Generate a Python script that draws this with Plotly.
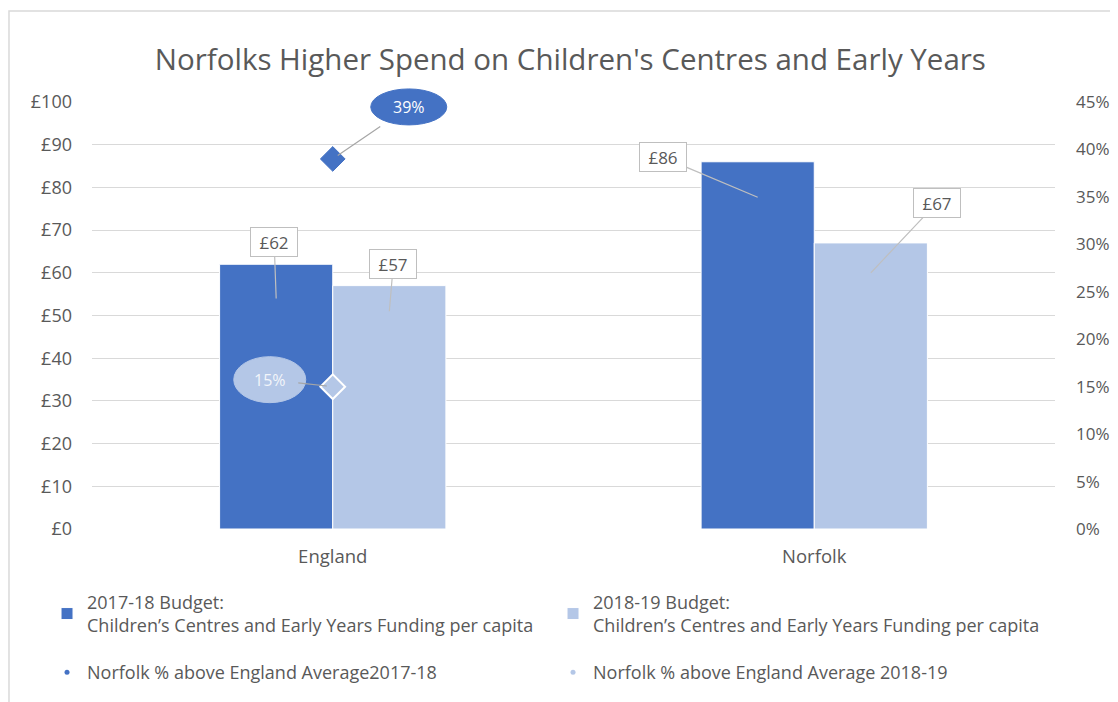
import plotly.graph_objects as go

categories = ["England", "Norfolk"]
budget_1718 = [62, 86]
budget_1819 = [57, 67]
pct_1718 = [39]          # Norfolk % above England, plotted at England
pct_1819 = [15]
pct_x = ["England"]

y_ticks = list(range(0, 101, 10))
y_ticklabels = [f"£{v}" for v in y_ticks]
y2_ticks = list(range(0, 46, 5))
y2_ticklabels = [f"{v}%" for v in y2_ticks]

name1 = "2017-18 Budget:<br>Children’s Centres and Early Years Funding per capita"
name2 = "2018-19 Budget:<br>Children’s Centres and Early Years Funding per capita"
name3 = "Norfolk % above England Average2017-18"
name4 = "Norfolk % above England Average 2018-19"

DARK = "#4472C4"
LIGHT = "#B4C7E7"
GREY_TXT = "#595959"
FONT = "'Open Sans', Lato, sans-serif"

Y2_MAX = 45
BARGAP = 0.53
half = (1 - BARGAP) / 4  # offset of each bar centre from category centre

fig = go.Figure()
fig.add_trace(go.Bar(x=categories, y=budget_1718, name=name1, legend="legend",
                     marker=dict(color=DARK, line=dict(color="white", width=1))))
fig.add_trace(go.Bar(x=categories, y=budget_1819, name=name2, legend="legend",
                     marker=dict(color=LIGHT, line=dict(color="white", width=1))))
fig.add_trace(go.Scatter(x=pct_x, y=pct_1718, yaxis="y2", mode="markers", showlegend=False,
                         marker=dict(symbol="diamond", size=19, color=DARK, line=dict(color=DARK, width=1))))
fig.add_trace(go.Scatter(x=pct_x, y=pct_1819, yaxis="y2", mode="markers", showlegend=False,
                         marker=dict(symbol="diamond", size=19, color=LIGHT, line=dict(color="white", width=2))))
# legend entries for the % series (small dot markers like the original)
fig.add_trace(go.Scatter(x=[None], y=[None], yaxis="y2", mode="markers", name=name3, legend="legend2",
                         marker=dict(symbol="circle", size=5, color=DARK)))
fig.add_trace(go.Scatter(x=[None], y=[None], yaxis="y2", mode="markers", name=name4, legend="legend2",
                         marker=dict(symbol="circle", size=5, color=LIGHT)))

annotations = []
# bar callouts: (category index, series offset sign, value, tip depth, ax, ay)
callouts = [
    (0, -1, budget_1718[0], 8, -2, -56),
    (0, 1, budget_1819[0], 6, 4, -47),
    (1, -1, budget_1718[1], 8.3, -95, -40),
    (1, 1, budget_1819[1], 7, 66, -70),
]
for ci, sgn, val, depth, ax, ay in callouts:
    annotations.append(dict(
        x=ci + sgn * half, y=val - depth, xref="x", yref="y",
        text=f"£{val}", showarrow=True, arrowhead=0, arrowwidth=1.2, arrowcolor="#BFBFBF",
        ax=ax, ay=ay, bgcolor="white", bordercolor="#BFBFBF", borderwidth=1, borderpad=2,
        width=42, height=24,
        font=dict(family=FONT, size=17, color=GREY_TXT)))

# percentage callouts (ellipses); paper refs so they are not clipped by the plot area
n_cat = len(categories)
pct_callouts = [
    (pct_1718[0], 76, -52, DARK, "white", 38, 18),
    (pct_1819[0], -63, -7, LIGHT, "#F2F5FA", 36, 23),
]
shapes = []
cat_paper = (categories.index(pct_x[0]) + 0.5) / n_cat
for val, ax, ay, fill, tcol, rx, ry in pct_callouts:
    shapes.append(dict(
        type="circle", xref="paper", yref="paper", xsizemode="pixel", ysizemode="pixel",
        xanchor=cat_paper, yanchor=val / Y2_MAX,
        x0=ax - rx, x1=ax + rx, y0=-ay - ry, y1=-ay + ry,
        fillcolor=fill, line=dict(color=fill, width=1), layer="above"))
    annotations.append(dict(
        x=pct_x[0], y=val, xref="x", yref="y2", text=f"{val}%", showarrow=True,
        arrowhead=0, arrowwidth=1.2, arrowcolor="#A6A6A6", ax=ax, ay=ay, standoff=6,
        font=dict(family=FONT, size=16, color=tcol), borderpad=12))

# chart border
shapes.append(dict(type="rect", xref="paper", yref="paper", x0=-0.0862, x1=1.061, y0=-0.6, y1=1.213,
                   line=dict(color="#D9D9D9", width=1.5), layer="below"))

legend_common = dict(orientation="h", x=-0.0467, xanchor="left", yanchor="top",
                     entrywidth=461, entrywidthmode="pixels", traceorder="normal",
                     font=dict(family=FONT, size=18, color=GREY_TXT), itemwidth=30,
                     bgcolor="rgba(0,0,0,0)")

fig.update_layout(
    width=1118, height=702,
    margin=dict(l=84, r=71, t=94, b=181, autoexpand=False),
    paper_bgcolor="white", plot_bgcolor="white",
    barmode="group", bargap=BARGAP, bargroupgap=0.0,
    title=dict(text="Norfolks Higher Spend on Children's Centres and Early Years",
               x=0.503, xanchor="center", y=0.926, yanchor="middle",
               font=dict(family=FONT, size=29.5, color=GREY_TXT)),
    xaxis=dict(type="category", range=[-0.5, n_cat - 0.5], showgrid=False, showline=False, ticks="",
               tickfont=dict(family=FONT, size=18.5, color=GREY_TXT), ticklabelstandoff=14),
    yaxis=dict(range=[0, 100], tickvals=y_ticks, ticktext=y_ticklabels, showgrid=True,
               gridcolor="#D9D9D9", gridwidth=1, zeroline=False, ticks="", ticklen=0,
               tickfont=dict(family=FONT, size=18, color=GREY_TXT), ticklabelstandoff=19),
    yaxis2=dict(range=[0, Y2_MAX], tickvals=y2_ticks, ticktext=y2_ticklabels, overlaying="y", side="right",
                showgrid=False, zeroline=False, ticks="",
                tickfont=dict(family=FONT, size=17, color=GREY_TXT), ticklabelstandoff=20),
    legend=dict(legend_common, y=-0.128),
    legend2=dict(legend_common, y=-0.293),
    annotations=annotations,
    shapes=shapes,
    showlegend=True,
)

fig.write_html("out.html")
